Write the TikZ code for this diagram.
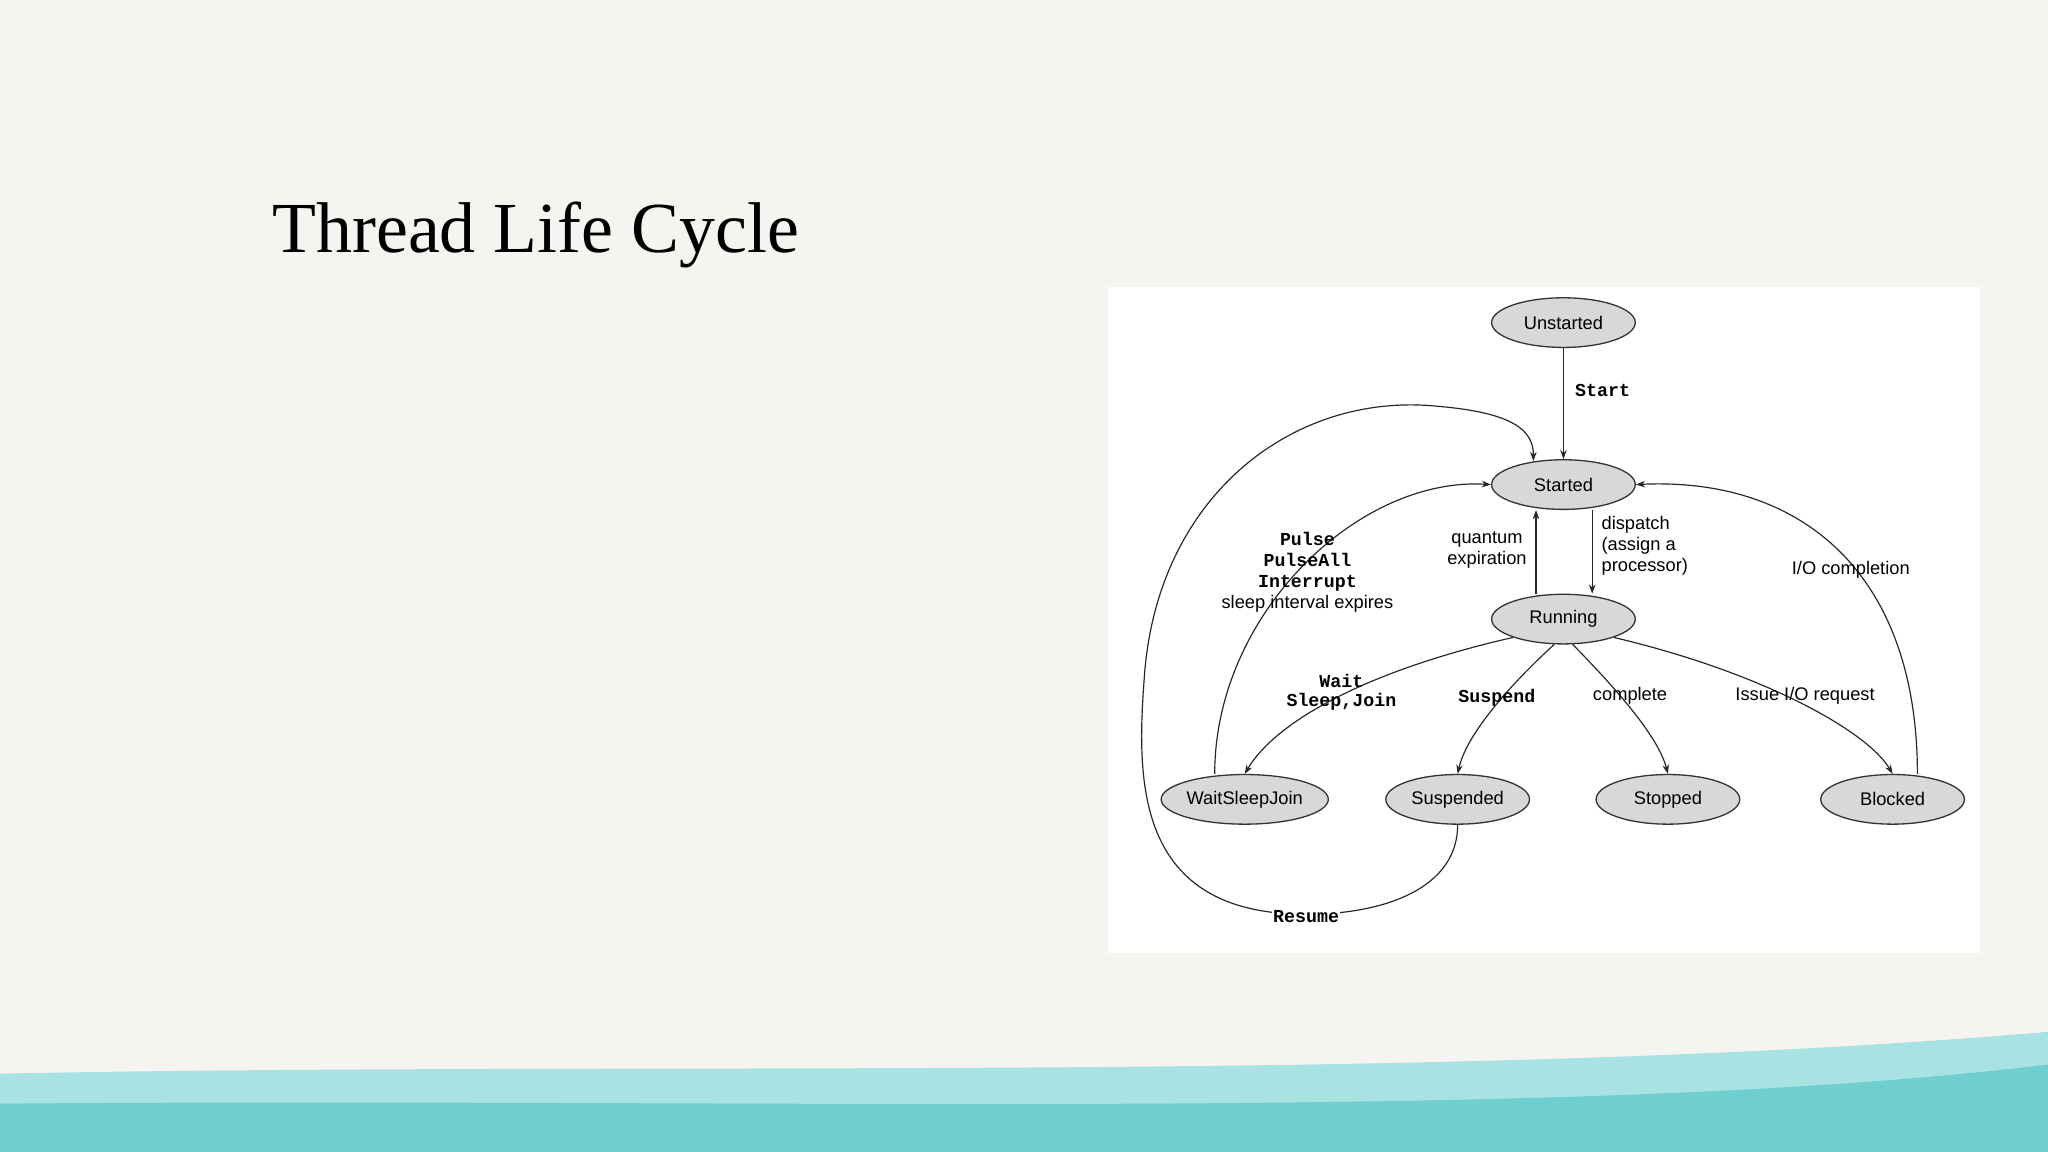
\documentclass[tikz,border=0pt]{standalone}
\usepackage{fontspec}
\setmainfont{Liberation Sans}
\newfontfamily\titlefont{Liberation Serif}
\newfontfamily\codefont{Liberation Mono}
\usetikzlibrary{shapes.geometric,arrows.meta}
\definecolor{paper}{HTML}{F6F4F0}
\definecolor{teal1}{HTML}{6FCFCF}
\definecolor{nodegray}{HTML}{D8D8D8}
\tikzset{
 st/.style={ellipse,draw=black!80,fill=nodegray,line width=1pt,minimum width=110pt,minimum height=38pt,inner sep=0pt,font=\fontsize{14}{16}\selectfont},
 ar/.style={-{Stealth[length=7pt,width=5pt]},line width=0.9pt,black!85},
 lb/.style={font=\fontsize{14}{16}\selectfont,align=center,inner sep=1pt},
 cd/.style={font=\codefont\bfseries\fontsize{14}{15}\selectfont,align=center,inner sep=1pt}
}
\begin{document}
\begin{tikzpicture}[x=1pt,y=-1pt]
\useasboundingbox (0,0) rectangle (1568,882);
\fill[paper] (0,0) rectangle (1568,882);
\fill[teal1!60] (0,822) .. controls (500,812) and (1100,830) .. (1568,790) -- (1568,882) -- (0,882) -- cycle;
\fill[teal1] (0,845) .. controls (600,840) and (1200,860) .. (1568,815) -- (1568,882) -- (0,882) -- cycle;
\fill[white] (848,220) rectangle (1516,730);
\node[anchor=west,font=\titlefont\fontsize{55}{60}\selectfont] (title) at (205,180) {Thread Life Cycle};
\node[st] (u) at (1197,247) {Unstarted};
\node[st] (s) at (1197,371) {Started};
\node[st] (r) at (1197,474) {Running};
\node[st,minimum width=128pt] (w) at (953,612) {WaitSleepJoin};
\node[st] (su) at (1116,612) {Suspended};
\node[st] (sp) at (1277,612) {Stopped};
\node[st] (b) at (1449,612) {Blocked};
\draw[ar] (u) -- (s);
\node[cd] (lstart) at (1227,299) {Start};
\draw[ar] (r.north -| 1176,0) -- (s.south -| 1176,0);
\draw[ar] (s.south -| 1219,0) -- (r.north -| 1219,0);
\node[lb,anchor=east,align=center] (lq) at (1170,421) {quantum\\expiration};
\node[lb,anchor=west,align=left] (ld) at (1225,418) {dispatch\\(assign a\\processor)};
\draw[ar] (r.200) .. controls (1040,515) and (975,555) .. (w.north);
\node[cd] (lw) at (1027,530) {Wait\\Sleep,Join};
\draw[ar] (r.250) .. controls (1150,530) and (1122,565) .. (su.north);
\node[cd] (lsu) at (1146,534) {Suspend};
\draw[ar] (r.290) .. controls (1240,530) and (1270,565) .. (sp.north);
\node[lb] (lc) at (1248,533) {complete};
\draw[ar] (r.340) .. controls (1350,515) and (1430,560) .. (b.north);
\node[lb] (li) at (1382,533) {Issue I/O request};
\draw[ar] (w.north -| 930,0) .. controls (930,470) and (1040,365) .. (s.west);
\node[lb,align=center] (lp) at (1001,438) {{\codefont\bfseries Pulse}\\{\codefont\bfseries PulseAll}\\{\codefont\bfseries Interrupt}\\sleep interval expires};
\draw[ar] (b.north -| 1468,0) .. controls (1468,440) and (1380,365) .. (s.east);
\node[lb] (lio) at (1417,436) {I/O completion};
\coordinate (rb) at (1000,700);
\coordinate (sin) at (1174,353);
\draw[ar] (su.south) .. controls (1116,680) and (1060,700) .. (rb) .. controls (870,700) and (870,600) .. (876,520) .. controls (885,380) and (990,300) .. (1100,311) .. controls (1160,316) and (1174,330) .. (sin);
\node[cd,fill=white] (lr) at (1000,702) {Resume};
\end{tikzpicture}
\end{document}
